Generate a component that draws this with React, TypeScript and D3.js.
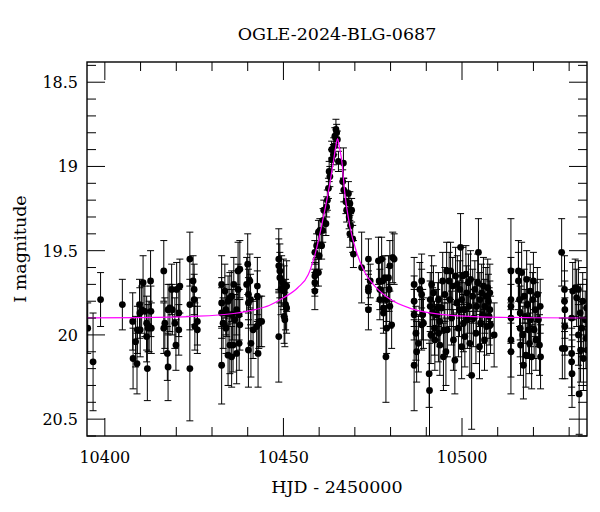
import React from 'react';
import * as d3 from 'd3';

type Obs = [number, number, number]; // HJD-2450000, I mag, error

const seasonA: Obs[] = [
  [10395.2, 19.96, 0.15], [10396.7, 20.16, 0.29], [10398.8, 19.79, 0.16], [10404.9, 19.82, 0.15],
  [10407.8, 19.92, 0.17], [10407.9, 20.14, 0.18], [10408.6, 20.04, 0.15], [10409.0, 20.17, 0.18],
  [10409.1, 19.97, 0.14], [10409.7, 19.82, 0.15], [10409.8, 19.87, 0.15], [10409.9, 19.97, 0.16],
  [10410.3, 19.85, 0.14], [10410.7, 19.69, 0.16], [10411.2, 19.86, 0.15], [10411.7, 19.93, 0.16],
  [10411.7, 20.01, 0.15], [10411.9, 20.2, 0.19], [10412.1, 19.96, 0.14], [10412.4, 19.95, 0.15],
  [10412.8, 19.68, 0.18], [10412.9, 19.86, 0.15], [10413.0, 19.96, 0.15], [10416.5, 19.62, 0.18],
  [10416.5, 19.96, 0.15], [10416.8, 19.93, 0.15], [10417.5, 20.11, 0.16], [10417.7, 20.19, 0.2],
  [10417.7, 19.85, 0.15], [10418.2, 19.84, 0.14], [10418.7, 19.73, 0.15], [10418.9, 19.85, 0.15],
  [10419.6, 19.93, 0.15], [10419.9, 20.06, 0.15], [10420.1, 19.73, 0.16], [10420.7, 19.97, 0.15],
  [10420.7, 19.87, 0.14], [10421.0, 19.71, 0.16], [10423.8, 19.55, 0.16], [10423.8, 19.82, 0.15],
  [10423.8, 20.2, 0.31], [10424.7, 19.68, 0.15], [10425.0, 19.73, 0.15], [10425.0, 19.79, 0.15],
  [10425.2, 19.95, 0.14], [10425.9, 19.92, 0.14], [10425.9, 19.97, 0.14],
];

const seasonB: Obs[] = [
  [10432.7, 19.7, 0.17], [10432.7, 19.81, 0.15], [10432.7, 19.87, 0.15], [10432.7, 20.18, 0.23],
  [10433.1, 19.93, 0.15], [10433.6, 19.74, 0.16], [10433.9, 19.85, 0.15], [10433.9, 19.96, 0.15],
  [10434.1, 19.87, 0.14], [10434.5, 19.8, 0.15], [10434.5, 20.12, 0.18], [10435.0, 19.78, 0.15],
  [10435.0, 20.06, 0.17], [10435.5, 20.13, 0.18], [10435.5, 19.77, 0.15], [10435.7, 19.88, 0.15],
  [10435.9, 20.06, 0.16], [10436.1, 19.7, 0.16], [10436.4, 19.91, 0.15], [10436.9, 19.85, 0.15],
  [10436.9, 20.11, 0.18], [10437.3, 19.62, 0.17], [10437.3, 19.73, 0.15], [10437.6, 19.88, 0.15],
  [10437.6, 20.05, 0.16], [10437.8, 19.61, 0.17], [10437.8, 19.94, 0.15],
  [10439.7, 19.7, 0.16], [10440.0, 19.58, 0.18], [10440.2, 19.76, 0.15], [10440.2, 19.81, 0.15],
  [10440.2, 20.09, 0.22], [10440.6, 19.68, 0.16], [10440.8, 19.79, 0.15], [10440.9, 20.05, 0.2],
  [10441.5, 19.97, 0.17], [10442.5, 19.95, 0.16], [10442.7, 19.71, 0.17], [10442.7, 19.77, 0.15],
  [10442.9, 20.11, 0.2], [10443.1, 19.93, 0.15], [10443.4, 19.92, 0.15], [10443.9, 19.92, 0.15],
  [10448.7, 19.55, 0.18], [10448.7, 19.59, 0.16], [10448.7, 20.01, 0.27], [10449.0, 19.62, 0.16],
  [10449.0, 19.66, 0.15], [10449.3, 19.73, 0.15], [10449.5, 19.68, 0.15], [10450.0, 19.7, 0.15],
  [10450.2, 19.74, 0.15], [10450.2, 19.89, 0.16], [10450.4, 19.91, 0.16], [10450.6, 19.82, 0.15],
  [10450.9, 19.84, 0.15], [10450.9, 19.71, 0.15],
];

const peak: Obs[] = [
  [10458.8, 19.65, 0.08], [10458.8, 19.69, 0.08], [10458.8, 19.74, 0.11], [10458.8, 19.51, 0.07],
  [10459.1, 19.63, 0.08], [10459.3, 19.47, 0.07], [10459.8, 19.63, 0.08], [10459.8, 19.39, 0.07],
  [10460.0, 19.53, 0.08], [10460.2, 19.38, 0.07], [10460.7, 19.47, 0.08], [10461.0, 19.38, 0.07],
  [10461.1, 19.32, 0.07], [10461.3, 19.26, 0.06], [10461.9, 19.34, 0.07], [10462.1, 19.24, 0.06],
  [10462.3, 19.2, 0.06], [10462.6, 19.13, 0.06], [10462.8, 19.03, 0.06], [10463.0, 19.06, 0.06],
  [10463.5, 18.96, 0.06], [10463.5, 18.9, 0.05], [10464.0, 18.93, 0.06], [10464.1, 18.88, 0.05],
  [10464.4, 18.82, 0.05], [10464.7, 18.78, 0.06], [10464.9, 18.8, 0.05], [10465.1, 18.84, 0.05],
  [10465.4, 18.97, 0.06], [10466.6, 19.09, 0.07], [10466.8, 18.98, 0.09], [10466.9, 19.14, 0.07],
  [10467.5, 19.21, 0.07], [10467.7, 19.26, 0.07], [10468.2, 19.16, 0.07], [10468.4, 19.3, 0.07],
  [10468.6, 19.22, 0.07], [10468.6, 19.4, 0.08], [10468.8, 19.35, 0.07], [10469.1, 19.26, 0.07],
  [10469.4, 19.43, 0.08], [10469.6, 19.52, 0.08], [10471.9, 19.6, 0.21],
  [10473.8, 19.55, 0.12], [10473.8, 19.72, 0.1], [10473.8, 19.74, 0.1], [10473.8, 19.85, 0.12],
];

const seasonC: Obs[] = [
  [10474.3, 19.68, 0.1], [10476.6, 19.56, 0.14], [10476.8, 19.68, 0.12], [10477.0, 19.73, 0.12],
  [10477.0, 19.79, 0.12], [10477.5, 19.55, 0.13], [10477.8, 19.68, 0.13], [10478.0, 19.84, 0.12],
  [10478.0, 19.87, 0.12], [10478.4, 19.66, 0.13], [10478.7, 20.13, 0.27], [10478.9, 19.96, 0.15],
  [10478.9, 19.79, 0.13], [10479.4, 19.66, 0.13], [10479.6, 19.73, 0.13], [10479.8, 19.59, 0.15],
  [10479.8, 19.83, 0.13], [10480.3, 19.94, 0.14], [10480.6, 19.54, 0.15], [10481.0, 19.55, 0.15],
];

const seasonD: Obs[] = [
  [10486.6, 19.7, 0.16], [10486.6, 19.8, 0.15], [10486.6, 19.88, 0.15], [10486.6, 20.18, 0.27],
  [10487.1, 19.99, 0.16], [10487.3, 20.1, 0.18], [10487.8, 20.05, 0.17], [10488.2, 19.73, 0.16],
  [10488.7, 19.68, 0.16], [10488.7, 19.76, 0.15], [10488.7, 19.94, 0.15], [10489.0, 19.88, 0.15],
  [10489.2, 19.93, 0.15],
  [10490.8, 20.23, 0.2], [10490.9, 20.33, 0.28], [10491.1, 19.79, 0.16], [10491.1, 19.83, 0.15],
  [10491.3, 20.0, 0.17], [10491.5, 19.7, 0.17], [10491.8, 19.87, 0.15], [10492.0, 19.75, 0.16],
  [10492.3, 19.96, 0.16], [10492.4, 20.03, 0.18], [10492.9, 19.88, 0.15], [10493.2, 19.84, 0.15],
  [10493.4, 19.79, 0.16], [10493.4, 19.99, 0.17], [10493.8, 19.92, 0.15], [10493.8, 20.06, 0.18],
  [10494.3, 19.84, 0.15], [10494.6, 19.68, 0.17], [10494.8, 20.13, 0.2], [10495.0, 19.97, 0.16],
  [10495.2, 19.76, 0.16], [10495.5, 20.1, 0.2], [10495.7, 19.62, 0.17], [10495.9, 19.97, 0.16],
  [10496.4, 19.68, 0.17], [10496.6, 19.79, 0.16], [10496.8, 19.62, 0.17], [10497.1, 19.9, 0.16],
  [10497.4, 19.71, 0.17], [10497.6, 20.03, 0.18], [10498.0, 20.15, 0.2], [10498.2, 19.65, 0.17],
  [10498.5, 19.81, 0.16], [10498.7, 19.7, 0.17], [10499.0, 19.96, 0.17], [10499.3, 19.85, 0.16],
  [10499.4, 19.73, 0.17], [10499.6, 19.48, 0.2], [10499.9, 20.07, 0.19], [10499.9, 19.79, 0.16],
  [10500.2, 19.65, 0.17], [10500.4, 19.93, 0.17], [10500.6, 19.85, 0.16], [10500.8, 20.01, 0.18],
  [10501.1, 19.64, 0.17], [10501.3, 19.75, 0.16], [10501.5, 19.91, 0.17], [10501.8, 19.69, 0.17],
  [10502.0, 19.83, 0.16], [10502.2, 20.05, 0.19], [10502.4, 19.67, 0.17], [10502.7, 20.24, 0.32],
  [10503.0, 19.77, 0.16], [10503.2, 19.9, 0.17], [10503.6, 19.73, 0.17], [10503.9, 19.99, 0.18],
  [10504.1, 19.83, 0.16], [10504.4, 19.69, 0.17], [10504.6, 19.51, 0.2], [10504.9, 20.07, 0.19],
  [10505.0, 19.79, 0.16], [10505.2, 19.93, 0.17], [10505.5, 19.75, 0.17], [10505.8, 19.88, 0.17],
  [10506.0, 19.71, 0.17], [10506.3, 20.03, 0.18], [10506.4, 19.83, 0.16], [10506.7, 19.77, 0.17],
  [10506.9, 19.95, 0.17], [10507.2, 19.72, 0.17], [10507.4, 19.8, 0.16], [10507.6, 19.89, 0.17],
  [10507.8, 19.75, 0.17], [10507.8, 19.85, 0.17], [10508.0, 19.94, 0.17], [10509.0, 20.0, 0.19],
];

const seasonE: Obs[] = [
  [10513.7, 19.62, 0.31], [10513.7, 19.79, 0.25], [10513.7, 19.83, 0.22], [10513.7, 19.9, 0.2],
  [10513.7, 20.03, 0.22], [10513.7, 20.1, 0.25],
  [10515.8, 19.62, 0.18], [10515.8, 19.68, 0.17], [10516.1, 19.79, 0.16], [10516.3, 19.87, 0.16],
  [10516.3, 19.96, 0.17], [10516.4, 20.06, 0.18], [10516.7, 19.63, 0.18], [10517.0, 20.0, 0.17],
  [10517.2, 20.18, 0.2], [10517.4, 19.77, 0.16], [10517.7, 19.89, 0.16], [10517.9, 20.12, 0.19],
  [10518.1, 19.67, 0.17], [10518.3, 19.82, 0.16], [10518.6, 19.97, 0.17], [10518.9, 20.05, 0.18],
  [10519.1, 19.74, 0.16], [10519.2, 19.91, 0.16], [10519.5, 20.13, 0.19], [10519.8, 19.79, 0.16],
  [10520.0, 19.68, 0.17], [10520.2, 19.97, 0.17], [10520.5, 19.85, 0.16], [10520.7, 20.03, 0.18],
  [10521.1, 19.76, 0.16], [10521.4, 19.91, 0.16], [10521.7, 20.06, 0.18], [10521.9, 19.83, 0.16],
  [10522.0, 20.13, 0.19],
];

const seasonF: Obs[] = [
  [10527.9, 19.51, 0.2], [10528.7, 19.73, 0.2], [10528.7, 19.8, 0.18], [10528.8, 19.85, 0.17],
  [10528.8, 19.95, 0.17], [10528.1, 20.08, 0.18], [10528.8, 20.08, 0.18],
  [10530.7, 19.9, 0.17], [10530.7, 20.11, 0.2], [10530.7, 20.16, 0.2], [10530.8, 20.23, 0.2],
  [10531.0, 19.74, 0.17], [10531.7, 19.72, 0.17], [10532.1, 19.78, 0.17], [10532.6, 19.73, 0.17],
  [10532.6, 20.0, 0.18], [10532.8, 20.35, 0.24], [10533.1, 19.87, 0.17], [10533.2, 20.09, 0.19],
  [10533.5, 19.96, 0.17], [10533.8, 19.8, 0.17], [10534.0, 20.14, 0.19], [10534.5, 19.91, 0.17],
  [10534.7, 20.02, 0.18], [10534.9, 19.84, 0.17], [10535.1, 20.09, 0.19],
];

// model light curve
const modelHjd = [
  10390, 10410, 10425, 10436, 10442, 10446, 10450, 10454, 10457, 10459, 10461, 10463, 10464,
  10464.6, 10465.15, 10465.7, 10466.3, 10467.2, 10468.6, 10470.5, 10472.8, 10475.6, 10480,
  10486, 10495, 10505, 10520, 10540,
];
const modelMag = [
  19.899, 19.897, 19.89, 19.873, 19.85, 19.825, 19.78, 19.72, 19.64, 19.51, 19.32, 19.1, 18.97,
  18.89, 18.835, 18.89, 18.96, 19.16, 19.355, 19.51, 19.63, 19.71, 19.79,
  19.845, 19.88, 19.893, 19.898, 19.9,
];

const xMajor = [10400, 10450, 10500];
const xLabels = ['10400', '10450', '10500'];
const yMajor = [18.5, 19, 19.5, 20, 20.5];
const yLabels = ['18.5', '19', '19.5', '20', '20.5'];

const title = 'OGLE-2024-BLG-0687';
const xTitle = 'HJD - 2450000';
const yTitle = 'I magnitude';

export default function App() {
  const width = 600;
  const height = 512;
  const left = 87, right = 587, top = 62, bottom = 436;
  const font = '"DejaVu Serif", serif';

  const x = d3.scaleLinear().domain([10395, 10535]).range([left, right]);
  const y = d3.scaleLinear().domain([18.38, 20.6]).range([top, bottom]);

  const obs = [...seasonA, ...seasonB, ...peak, ...seasonC, ...seasonD, ...seasonE, ...seasonF];
  const model = modelHjd.map((t, i) => [t, modelMag[i]] as [number, number]);
  const line = d3
    .line<[number, number]>()
    .x((d) => x(d[0]))
    .y((d) => y(d[1]))
    .curve(d3.curveMonotoneX);

  const xMinor = d3.range(10400, 10536, 10);
  const yMinor = d3.range(184, 207).map((v) => v / 10);
  const majLen = 18;
  const minLen = 9;
  const cap = 3.5;

  return (
    <svg width={width} height={height} style={{ position: 'absolute', left: 0, top: 0, background: '#fff' }}>
      <defs>
        <clipPath id="plot">
          <rect x={left} y={top} width={right - left} height={bottom - top} />
        </clipPath>
      </defs>

      <text x={(left + right) / 2} y={39.5} textAnchor="middle" fontFamily={font} fontSize={17.5}>
        {title}
      </text>

      <g clipPath="url(#plot)">
        {obs.map((d, i) => {
          const cx = x(d[0]);
          const y1 = y(d[1] - d[2]);
          const y2 = y(d[1] + d[2]);
          return (
            <g key={'e' + i} stroke="#000" strokeWidth={1}>
              <line x1={cx} x2={cx} y1={y1} y2={y2} />
              <line x1={cx - cap} x2={cx + cap} y1={y1} y2={y1} />
              <line x1={cx - cap} x2={cx + cap} y1={y2} y2={y2} />
            </g>
          );
        })}
        {obs.map((d, i) => (
          <circle key={'p' + i} cx={x(d[0])} cy={y(d[1])} r={3.4} fill="#000" />
        ))}
        <path d={line(model) || ''} fill="none" stroke="#ff00ff" strokeWidth={1.2} />
      </g>

      {/* ticks on all four sides */}
      <g stroke="#000" strokeWidth={1}>
        {xMinor.map((t) => {
          const len = xMajor.includes(t) ? majLen : minLen;
          return (
            <g key={'xt' + t}>
              <line x1={x(t)} x2={x(t)} y1={bottom} y2={bottom - len} />
              <line x1={x(t)} x2={x(t)} y1={top} y2={top + len} />
            </g>
          );
        })}
        {yMinor.map((m) => {
          const len = yMajor.some((v) => Math.abs(v - m) < 1e-6) ? majLen : minLen;
          return (
            <g key={'yt' + m}>
              <line x1={left} x2={left + len} y1={y(m)} y2={y(m)} />
              <line x1={right} x2={right - len} y1={y(m)} y2={y(m)} />
            </g>
          );
        })}
      </g>

      <rect x={left} y={top} width={right - left} height={bottom - top} fill="none" stroke="#000" strokeWidth={1.4} />

      {xMajor.map((t, i) => (
        <text key={'xl' + t} x={x(t)} y={463} textAnchor="middle" fontFamily={font} fontSize={16}>
          {xLabels[i]}
        </text>
      ))}
      {yMajor.map((m, i) => (
        <text key={'yl' + m} x={78} y={y(m) + 6} textAnchor="end" fontFamily={font} fontSize={16}>
          {yLabels[i]}
        </text>
      ))}

      <text x={(left + right) / 2} y={493} textAnchor="middle" fontFamily={font} fontSize={17.5}>
        {xTitle}
      </text>
      <text
        transform={`translate(26, ${(top + bottom) / 2}) rotate(-90)`}
        textAnchor="middle"
        fontFamily={font}
        fontSize={17.5}
      >
        {yTitle}
      </text>
    </svg>
  );
}
